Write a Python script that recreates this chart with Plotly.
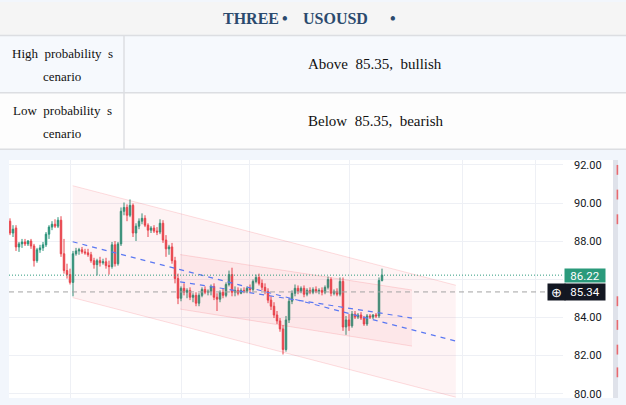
import plotly.graph_objects as go

# ---------------- data ----------------
opens = [89.05, 88.43, 88.69, 87.70, 87.86, 87.96, 87.86, 88.01, 87.75, 86.98,
         87.55, 87.65, 87.81, 88.37, 88.74, 88.89, 88.79, 89.10, 87.34, 86.46,
         86.25, 85.84, 87.34, 87.49, 87.55, 87.44, 87.39, 87.29, 86.98, 86.77,
         86.98, 86.87, 86.92, 86.72, 86.67, 87.81, 86.82, 87.86, 89.57, 89.77,
         89.36, 89.88, 88.43, 88.79, 89.05, 89.20, 88.84, 88.58, 88.69, 88.53,
         88.48, 88.94, 88.06, 87.60, 87.70, 86.98, 86.04, 85.01, 85.53, 85.32,
         85.42, 85.06, 85.16, 84.75, 85.16, 85.47, 85.32, 85.37, 85.63, 85.06,
         84.96, 85.32, 85.16, 85.73, 86.25, 85.32, 85.42, 85.27, 85.42, 85.37,
         85.53, 85.47, 85.89, 86.10, 85.79, 85.58, 85.37, 84.91, 84.59, 84.13,
         83.82, 83.40, 82.32, 83.87, 84.85, 85.27, 85.53, 85.37, 85.53, 85.22,
         85.42, 85.32, 85.47, 85.37, 85.42, 85.32, 85.58, 85.99, 85.27, 85.37,
         85.22, 85.89, 83.50, 83.87, 83.56, 84.18, 84.02, 84.13, 83.97, 83.66,
         84.08, 84.02, 84.13, 84.08, 85.94]
highs = [89.20, 88.84, 88.84, 87.96, 88.12, 88.12, 88.06, 88.12, 87.86, 87.65,
         87.81, 87.96, 88.48, 88.84, 89.05, 89.15, 89.26, 89.31, 88.12, 86.82,
         86.56, 87.49, 87.65, 87.65, 87.70, 87.60, 87.60, 87.44, 87.13, 87.08,
         87.18, 87.08, 87.13, 86.98, 87.96, 88.01, 87.96, 89.77, 90.03, 89.93,
         90.19, 89.98, 88.94, 89.20, 89.46, 89.36, 88.94, 88.79, 88.84, 88.74,
         89.15, 89.10, 88.32, 87.81, 87.91, 87.18, 86.30, 85.63, 85.79, 85.53,
         85.58, 85.27, 85.32, 85.27, 85.58, 85.63, 85.47, 85.73, 85.79, 85.27,
         85.42, 85.53, 85.84, 86.46, 86.61, 85.63, 85.58, 85.53, 85.58, 85.63,
         85.73, 85.99, 86.25, 86.30, 85.99, 85.79, 85.53, 85.11, 84.80, 84.34,
         83.97, 83.61, 84.08, 85.01, 85.42, 85.73, 85.68, 85.63, 85.68, 85.53,
         85.58, 85.58, 85.63, 85.53, 85.58, 85.68, 86.15, 86.10, 85.47, 85.53,
         86.10, 86.10, 84.08, 84.18, 84.34, 84.34, 84.23, 84.28, 84.08, 84.18,
         84.18, 84.18, 84.23, 86.10, 86.56]
lows = [88.32, 88.22, 87.49, 87.44, 87.65, 87.75, 87.75, 87.60, 86.67, 86.87,
        87.39, 87.49, 87.70, 88.12, 88.58, 88.69, 88.69, 87.18, 86.30, 86.04,
        85.73, 85.11, 87.24, 87.29, 87.34, 87.29, 87.18, 86.87, 86.56, 86.20,
        86.67, 86.77, 86.56, 86.25, 86.56, 86.67, 86.72, 87.75, 89.36, 89.05,
        89.26, 88.22, 88.01, 88.63, 88.89, 88.74, 88.22, 88.43, 88.43, 88.32,
        88.37, 87.91, 87.18, 87.29, 86.82, 85.79, 84.70, 84.85, 85.16, 85.01,
        84.91, 84.80, 84.59, 84.59, 85.06, 85.22, 85.16, 85.16, 84.91, 84.34,
        84.80, 85.01, 85.06, 85.63, 85.11, 85.11, 85.16, 85.22, 85.27, 85.27,
        85.32, 85.37, 85.79, 85.68, 85.42, 85.22, 84.75, 84.39, 83.97, 83.66,
        83.25, 82.06, 82.21, 83.71, 84.70, 85.11, 85.22, 85.27, 85.06, 85.11,
        85.22, 85.22, 85.27, 85.22, 85.16, 85.22, 85.47, 85.11, 85.16, 85.11,
        85.11, 83.30, 83.09, 83.30, 83.46, 83.92, 83.92, 83.87, 83.56, 83.56,
        83.92, 83.92, 83.97, 83.97, 85.89]
closes = [88.43, 88.63, 87.70, 87.86, 87.96, 87.86, 88.01, 87.75, 86.98, 87.55,
          87.65, 87.81, 88.37, 88.74, 88.89, 88.79, 89.10, 87.34, 86.46, 86.25,
          85.84, 87.34, 87.49, 87.55, 87.44, 87.39, 87.29, 86.98, 86.77, 86.98,
          86.87, 86.92, 86.72, 86.67, 87.81, 86.82, 87.86, 89.57, 89.77, 89.36,
          89.88, 88.43, 88.79, 89.05, 89.20, 88.84, 88.58, 88.69, 88.53, 88.48,
          88.94, 88.06, 87.60, 87.70, 86.98, 86.04, 85.01, 85.53, 85.32, 85.42,
          85.06, 85.16, 84.75, 85.16, 85.47, 85.32, 85.37, 85.63, 85.06, 84.96,
          85.32, 85.16, 85.73, 86.25, 85.32, 85.42, 85.27, 85.42, 85.37, 85.53,
          85.47, 85.89, 86.10, 85.79, 85.58, 85.37, 84.91, 84.59, 84.13, 83.82,
          83.40, 82.32, 83.87, 84.85, 85.27, 85.53, 85.37, 85.53, 85.22, 85.42,
          85.32, 85.47, 85.37, 85.42, 85.32, 85.58, 85.99, 85.27, 85.37, 85.22,
          85.89, 83.50, 83.87, 83.56, 84.18, 84.02, 84.13, 83.97, 83.66, 84.08,
          84.02, 84.13, 84.08, 85.94, 86.22]
bar_index = list(range(len(closes)))

# vertical time grid positions (bar index units)
time_ticks = [20.2, 57.2, 79.8, 113.1, 150.9, 175.1]

# price axis
price_ticks = [80, 82, 84, 86, 88, 90, 92]
price_labels = ["80.00", "82.00", "84.00", "", "88.00", "90.00", "92.00"]

# drawings: parallel channels (bar index, price)
outer_x = [20.9, 148.6]
outer_top = [90.91, 85.69]
outer_bot = [85.04, 79.82]
outer_mid = [87.97, 82.76]
inner_x = [56.7, 134.0]
inner_top = [87.30, 85.44]
inner_bot = [84.44, 82.50]
inner_mid = [85.87, 83.97]

last_price = 86.22
line_price = 85.34

title_parts = ["THREE", "•", "USOUSD", "•"]
row_labels = [["High probability s", "cenario"], ["Low probability s", "cenario"]]
row_texts = ["Above 85.35, bullish", "Below 85.35, bearish"]

# ---------------- layout helpers ----------------
W, H = 626, 405
PL, PR, PT, PB = 9, 563, 160, 401


def px(p):
    return (p - PL) / (PR - PL)


def py(p):
    return (PB - p) / (PB - PT)


fig = go.Figure()

CH_FILL = "rgba(242,54,69,0.06)"
CH_LINE = "rgba(242,54,69,0.16)"
for xs, top, bot in [(outer_x, outer_top, outer_bot), (inner_x, inner_top, inner_bot)]:
    fig.add_trace(go.Scatter(
        x=[xs[0], xs[1], xs[1], xs[0], xs[0]],
        y=[top[0], top[1], bot[1], bot[0], top[0]],
        mode="lines", fill="toself", fillcolor=CH_FILL,
        line=dict(color="rgba(0,0,0,0)", width=0), hoverinfo="skip", showlegend=False))
    fig.add_trace(go.Scatter(x=xs, y=top, mode="lines", line=dict(color=CH_LINE, width=1),
                             hoverinfo="skip", showlegend=False))
    fig.add_trace(go.Scatter(x=xs, y=bot, mode="lines", line=dict(color=CH_LINE, width=1),
                             hoverinfo="skip", showlegend=False))

fig.add_trace(go.Candlestick(
    x=bar_index, open=opens, high=highs, low=lows, close=closes,
    increasing=dict(line=dict(color="#2a937a", width=1), fillcolor="#2a937a"),
    decreasing=dict(line=dict(color="#e8444c", width=1), fillcolor="#e8444c"),
    whiskerwidth=0, showlegend=False, hoverinfo="skip"))

for xs, mid in [(outer_x, outer_mid), (inner_x, inner_mid)]:
    fig.add_trace(go.Scatter(x=xs, y=mid, mode="lines",
                             line=dict(color="#5b78f2", width=1.2, dash="5px,5px"),
                             hoverinfo="skip", showlegend=False))

shapes = []
# header & table
shapes.append(dict(type="rect", xref="paper", yref="paper", x0=px(0), x1=px(W), y0=py(34), y1=py(0),
                   fillcolor="#f5f5f5", line=dict(width=0)))
shapes.append(dict(type="rect", xref="paper", yref="paper", x0=px(0), x1=px(W), y0=py(92), y1=py(34),
                   fillcolor="#f6f9fd", line=dict(width=0)))
shapes.append(dict(type="rect", xref="paper", yref="paper", x0=px(0), x1=px(W), y0=py(149.5), y1=py(92),
                   fillcolor="#fdfdfd", line=dict(width=0)))
for yy in [34, 92, 149]:
    shapes.append(dict(type="line", xref="paper", yref="paper", x0=px(0), x1=px(W), y0=py(yy), y1=py(yy),
                       line=dict(color="#dcdee2", width=1.5)))
shapes.append(dict(type="line", xref="paper", yref="paper", x0=px(124), x1=px(124), y0=py(34), y1=py(149),
                   line=dict(color="#dcdee2", width=1.5)))
# price-scale panel and scrollbar
shapes.append(dict(type="rect", xref="paper", yref="paper", x0=px(PR), x1=px(613), y0=0, y1=1,
                   fillcolor="white", line=dict(width=0), layer="below"))
shapes.append(dict(type="rect", xref="paper", yref="paper", x0=px(613), x1=px(618), y0=0, y1=1,
                   fillcolor="#dfe2ea", line=dict(width=0)))
for a, b in [(165, 175), (190, 200), (215, 225), (298, 308), (322, 332), (347, 357), (370, 380)]:
    shapes.append(dict(type="rect", xref="paper", yref="paper", x0=px(616.6), x1=px(618.2),
                       y0=py(b), y1=py(a), fillcolor="#e86a6f", line=dict(width=0)))
# price lines
shapes.append(dict(type="line", xref="paper", yref="y", x0=0, x1=px(564), y0=last_price, y1=last_price,
                   line=dict(color="#2f9a7e", width=1, dash="1px,2px")))
shapes.append(dict(type="line", xref="paper", yref="y", x0=0, x1=px(547), y0=line_price, y1=line_price,
                   line=dict(color="#a3a3a3", width=1, dash="5px,4px")))

annotations = []
title_x = [251, 285, 335, 393]
for t, xx in zip(title_parts, title_x):
    annotations.append(dict(text=f"<b>{t}</b>", x=px(xx), y=py(17), xref="paper", yref="paper",
                            showarrow=False, xanchor="center", yanchor="middle",
                            font=dict(family="Liberation Serif", size=16, color="#2b4a6e")))
label_y = [(52, 75, 63), (110, 133, 121)]
for (l1, l2), txt, (ya, yb, yc) in zip(row_labels, row_texts, label_y):
    annotations.append(dict(text=l1.replace(" ", "\u00a0 "), x=px(62), y=py(ya), xref="paper", yref="paper",
                            showarrow=False, xanchor="center", yanchor="middle",
                            font=dict(family="Liberation Serif", size=13, color="#111111")))
    annotations.append(dict(text=l2, x=px(62), y=py(yb), xref="paper", yref="paper",
                            showarrow=False, xanchor="center", yanchor="middle",
                            font=dict(family="Liberation Serif", size=13, color="#111111")))
    annotations.append(dict(text=txt.replace(" ", "\u00a0 "), x=px(375), y=py(yc), xref="paper", yref="paper",
                            showarrow=False, xanchor="center", yanchor="middle",
                            font=dict(family="Liberation Serif", size=15, color="#111111")))
# price labels
annotations.append(dict(text=f"{last_price:.2f}", x=px(564), y=last_price, xref="paper", yref="y",
                        showarrow=False, xanchor="left", yanchor="middle", width=40, height=13,
                        bgcolor="#2a9a7b", borderpad=0,
                        font=dict(family="Roboto", size=11.5, color="white")))
annotations.append(dict(text=f"{line_price:.2f}", x=px(564), y=line_price, xref="paper", yref="y",
                        showarrow=False, xanchor="left", yanchor="middle", width=40, height=16,
                        bgcolor="#131722", borderpad=0,
                        font=dict(family="Roboto", size=11.5, color="white")))
annotations.append(dict(text="⊕", x=px(547), y=line_price, xref="paper", yref="y",
                        showarrow=False, xanchor="left", yanchor="middle", width=17, height=16,
                        bgcolor="#131722", borderpad=0,
                        font=dict(family="DejaVu Sans", size=13, color="white")))

fig.update_layout(
    width=W, height=H,
    margin=dict(l=PL, r=W - PR, t=PT, b=H - PB, pad=0),
    paper_bgcolor="#f2f6fc", plot_bgcolor="white",
    shapes=shapes, annotations=annotations, showlegend=False,
    xaxis=dict(range=[-1 / 3, (PR - PL) / 3 - 1 / 3], tickvals=time_ticks, showticklabels=False,
               showgrid=True, gridcolor="#eef0f5", gridwidth=1, zeroline=False, showline=False,
               ticks="", rangeslider=dict(visible=False), fixedrange=True),
    yaxis=dict(range=[79.777, 92.259], side="right", tickvals=price_ticks, ticktext=price_labels,
               showgrid=True, gridcolor="#eef0f5", gridwidth=1, zeroline=False, showline=False,
               ticks="", ticklabelstandoff=10, fixedrange=True,
               tickfont=dict(family="Roboto", size=11, color="#131722")),
)

fig.write_html("out.html", config={"displayModeBar": False},
               post_script="document.body.style.margin='0px';document.body.style.overflow='hidden';")
